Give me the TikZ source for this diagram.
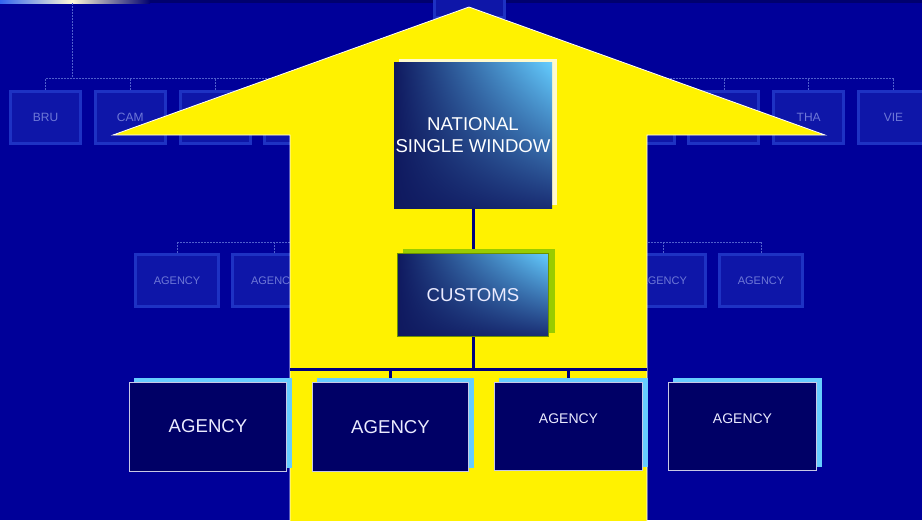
\documentclass[tikz,border=0pt]{standalone}
\usepackage{fontspec}
\setmainfont{Liberation Sans}
\setsansfont{Liberation Sans}
\usepackage{tikz}
\usetikzlibrary{calc,shadings}
\pgfdeclarelayer{bottom}
\pgfdeclarelayer{background}
\pgfsetlayers{bottom,background,main}
\definecolor{slide}{RGB}{0,0,153}
\definecolor{slidetop}{RGB}{0,0,110}
\definecolor{stripblue}{RGB}{50,100,240}
\definecolor{stripcream}{RGB}{255,250,215}
\definecolor{faintedge}{RGB}{30,50,195}
\definecolor{faintin}{RGB}{14,22,168}
\definecolor{fainttext}{RGB}{110,120,215}
\definecolor{faintline}{RGB}{80,95,205}
\definecolor{cream}{RGB}{255,250,205}
\definecolor{limegreen}{RGB}{153,204,0}
\definecolor{skyblue}{RGB}{102,204,255}
\definecolor{deepnavy}{RGB}{0,0,102}
\definecolor{linknavy}{RGB}{0,0,128}
\definecolor{boxdark}{RGB}{15,25,95}
\definecolor{boxlight}{RGB}{100,205,255}
\definecolor{boxmid}{RGB}{25,45,115}
\definecolor{agencyline}{RGB}{200,200,230}
\newcommand{\bigfont}[0]{\fontsize{18.6}{22}\selectfont}
\newcommand{\smallfont}[0]{\fontsize{14}{16}\selectfont}
\newcommand{\faintfont}[0]{\fontsize{12}{14}\selectfont}

\begin{document}
\begin{tikzpicture}[x=1pt,y=-1pt]
\tikzstyle{country}=[rectangle,draw=faintedge,line width=3pt,fill=faintin,
  minimum width=70pt,minimum height=52pt,inner sep=0pt,text=fainttext,font=\faintfont]
\tikzstyle{office}=[country,minimum width=83pt,font=\fontsize{11}{13}\selectfont]
\tikzstyle{faint link}=[draw=faintline,line width=0.6pt,dash pattern=on 2pt off 1pt]
\tikzstyle{window}=[rectangle,shade,upper left=boxdark,upper right=boxlight,
  lower left=boxdark,lower right=boxmid,inner sep=0pt,text=white,align=center,font=\bigfont]
\tikzstyle{agency}=[rectangle,fill=deepnavy,draw=agencyline,line width=1pt,inner sep=0pt,
  text=white!92!blue,font=\bigfont]
\tikzstyle{link}=[draw=linknavy,line width=3pt]

\useasboundingbox (0,0) rectangle (922,520);
\clip (0,0) rectangle (922,520);

\begin{pgfonlayer}{bottom}
% slide
\fill[slide] (0,0) rectangle (922,520);
\fill[slidetop] (0,0) rectangle (922,3);
\shade[left color=stripblue,right color=stripcream] (0,0) rectangle (72,3);
\shade[left color=stripcream,right color=slidetop] (72,0) rectangle (150,3);
\coordinate (strip) at (72,3);

% faint regional chart
\node[country] (R)   at (469,-9)      {};
\node[country] (C1)  at (45.5,117.5)  {BRU};
\node[country] (C2)  at (130.3,117.5) {CAM};
\node[country] (C3)  at (215.1,117.5) {};
\node[country] (C4)  at (299.9,117.5) {};
\node[country] (C5)  at (384.7,117.5) {};
\node[country] (C6)  at (469.5,117.5) {};
\node[country] (C7)  at (554.3,117.5) {};
\node[country] (C8)  at (639.1,117.5) {};
\node[country] (C9)  at (723.9,117.5) {};
\node[country] (C10) at (808.7,117.5) {THA};
\node[country] (C11) at (893.5,117.5) {VIE};
\coordinate (top) at (469.5,78);

\path[faint link] (strip) edge (strip |- top)
  (C1.north |- top) edge (C11.north |- top)
  (C1.north) edge (C1.north |- top)
  (C2.north) edge (C2.north |- top)
  (C3.north) edge (C3.north |- top)
  (C9.north) edge (C9.north |- top)
  (C10.north) edge (C10.north |- top)
  (C11.north) edge (C11.north |- top);

\node[office] (O1) at (177,280.5)   {AGENCY};
\node[office] (O2) at (274.3,280.5) {AGENCY};
\node[office] (O3) at (371.7,280.5) {};
\node[office] (O4) at (469,280.5)   {};
\node[office] (O5) at (566.3,280.5) {};
\node[office] (O6) at (663.7,280.5) {AGENCY};
\node[office] (O7) at (761,280.5)   {AGENCY};
\coordinate (mid) at (469,242);

\path[faint link] (O1.north |- mid) edge (O7.north |- mid)
  (O1.north) edge (O1.north |- mid)
  (O2.north) edge (O2.north |- mid)
  (O6.north) edge (O6.north |- mid)
  (O7.north) edge (O7.north |- mid);

% big arrow
\filldraw[fill=yellow,draw=white,line width=0.8pt] (469,7) -- (825,135) -- (647,135)
  -- (647,522) -- (290,522) -- (290,135) -- (113,135) -- cycle;
\end{pgfonlayer}

\node[window,minimum width=158pt,minimum height=146pt] (nsw) at (473,135) {NATIONAL\\SINGLE WINDOW};
\node[window,draw=limegreen!70!black,line width=0.8pt,minimum width=151pt,minimum height=83pt,
  text=white!92!blue] (customs) at (473,295) {CUSTOMS};

\node[agency,minimum width=157pt,minimum height=89pt] (A1) at (208,426.5)   {AGENCY};
\node[agency,minimum width=156pt,minimum height=89pt] (A2) at (390.5,427)   {AGENCY};
\node[agency,minimum width=148pt,minimum height=88pt,font=\smallfont,
  text height=10pt,text depth=17pt] (A3) at (568.5,426.5) {AGENCY};
\node[agency,minimum width=148pt,minimum height=88pt,font=\smallfont,
  text height=10pt,text depth=17pt] (A4) at (742.5,426.5) {AGENCY};

\begin{pgfonlayer}{background}
\coordinate (bus)  at (473,369);
\coordinate (busL) at (290,369);
\coordinate (busR) at (647,369);
\path[link] (nsw) edge (customs)
  (customs) edge (bus)
  (busL) edge (busR)
  (A2.north |- bus) edge (A2.north)
  (A3.north |- bus) edge (A3.north);

% shadows
\fill[cream] ($(nsw.south west)+(5,-3)$) rectangle ($(nsw.north east)+(5,-3)$);
\fill[limegreen] ($(customs.south west)+(6,-4)$) rectangle ($(customs.north east)+(6,-4)$);
\fill[skyblue] ($(A1.south west)+(5,-4)$) rectangle ($(A1.north east)+(5,-4)$);
\fill[skyblue] ($(A2.south west)+(5,-4)$) rectangle ($(A2.north east)+(5,-4)$);
\fill[skyblue] ($(A3.south west)+(5,-4)$) rectangle ($(A3.north east)+(5,-4)$);
\fill[skyblue] ($(A4.south west)+(5,-4)$) rectangle ($(A4.north east)+(5,-4)$);
\end{pgfonlayer}

\end{tikzpicture}
\end{document}
